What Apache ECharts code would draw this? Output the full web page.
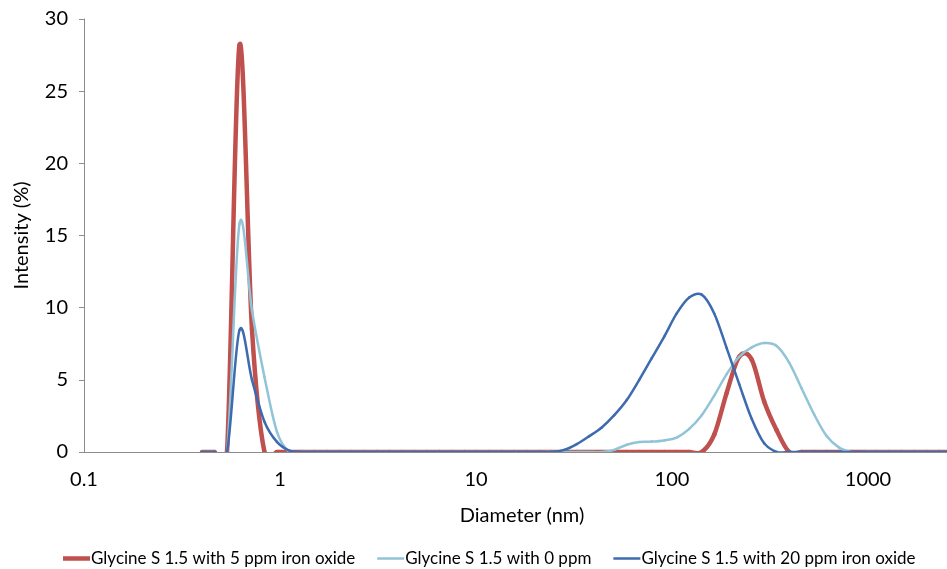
<!DOCTYPE html>
<html>
<head>
<meta charset="utf-8">
<script src="https://cdn.jsdelivr.net/npm/echarts@6/dist/echarts.min.js"></script>
<style>
  html, body { margin: 0; padding: 0; background: #fff; }
  #chart { width: 947px; height: 569px; }
</style>
</head>
<body>
<div id="chart"></div>
<script>
// Size bins of the DLS instrument (nm), log-spaced
const diameters = [0.4, 0.4632, 0.5365, 0.6213, 0.7195, 0.8332, 0.9649, 1.117, 1.294, 1.499,
  1.736, 2.01, 2.328, 2.696, 3.122, 3.615, 4.187, 4.849, 5.615, 6.503,
  7.531, 8.721, 10.1, 11.7, 13.54, 15.69, 18.17, 21.04, 24.36, 28.21,
  32.67, 37.84, 43.82, 50.75, 58.77, 68.06, 78.82, 91.28, 105.7, 122.4,
  141.8, 164.2, 190.1, 220.2, 255, 295.3, 342, 396.1, 458.7, 531.2,
  615.1, 712.4, 825, 955.4, 1106, 1281, 1484, 1718, 1990, 2305,
  2669, 3091, 3580, 4145, 4801, 5560, 6439, 7456, 8635, 10000];

// Intensity (%) per bin
const iron5ppm = [0, 0, 0, 28.2, 8.5, 0, 0, 0, 0, 0,
  0, 0, 0, 0, 0, 0, 0, 0, 0, 0,
  0, 0, 0, 0, 0, 0, 0, 0, 0, 0,
  0, 0, 0, 0, 0, 0, 0, 0, 0, 0,
  0, 1.2, 4.1, 6.6, 6.4, 3.5, 1.5, 0, 0, 0,
  0, 0, 0, 0, 0, 0, 0, 0, 0, 0,
  0, 0, 0, 0, 0, 0, 0, 0, 0, 0];

const iron0ppm = [0, 0, 0, 15.8, 9.8, 5.2, 1.4, 0, 0, 0,
  0, 0, 0, 0, 0, 0, 0, 0, 0, 0,
  0, 0, 0, 0, 0, 0, 0, 0, 0, 0,
  0, 0, 0, 0.15, 0.5, 0.7, 0.72, 0.8, 1.0, 1.6,
  2.55, 3.9, 5.4, 6.6, 7.25, 7.55, 7.35, 6.2, 4.4, 2.6,
  1.1, 0.3, 0, 0, 0, 0, 0, 0, 0, 0,
  0, 0, 0, 0, 0, 0, 0, 0, 0, 0];

const iron20ppm = [0, 0, 0, 8.45, 5.0, 2.1, 0.7, 0.1, 0, 0,
  0, 0, 0, 0, 0, 0, 0, 0, 0, 0,
  0, 0, 0, 0, 0, 0, 0, 0, 0, 0.15,
  0.55, 1.1, 1.7, 2.55, 3.6, 5.0, 6.5, 8.0, 9.6, 10.7,
  10.9, 9.6, 7.2, 4.7, 2.3, 0.6, 0, 0, 0, 0,
  0, 0, 0, 0, 0, 0, 0, 0, 0, 0,
  0, 0, 0, 0, 0, 0, 0, 0, 0, 0];

const seriesNames = [
  'Glycine S 1.5 with 5 ppm iron oxide',
  'Glycine S 1.5 with 0 ppm',
  'Glycine S 1.5 with 20 ppm iron oxide'
];

const pairs = ys => diameters.map((d, i) => [d, ys[i]]);

const FONT = 'Lato';
const chart = echarts.init(document.getElementById('chart'), null, { renderer: 'canvas' });

// Smoothed curve (Catmull-Rom style Bezier) through the data points,
// positioned with the chart's own axes via api.coord; drawn once per series.
function curveSeries(name, ys, color, width) {
  return {
    name, type: 'custom', clip: true, data: pairs(ys),
    encode: { x: 0, y: 1 },
    itemStyle: { color },
    animation: false,
    renderItem(params, api) {
      if (params.dataIndex !== 0) return null;
      const pts = diameters.map((d, i) => api.coord([d, ys[i]]));
      const n = pts.length;
      const children = [];
      for (let i = 0; i < n - 1; i++) {
        const p0 = pts[Math.max(i - 1, 0)];
        const p1 = pts[i];
        const p2 = pts[i + 1];
        const p3 = pts[Math.min(i + 2, n - 1)];
        children.push({
          type: 'bezierCurve',
          shape: {
            x1: p1[0], y1: p1[1], x2: p2[0], y2: p2[1],
            cpx1: p1[0] + (p2[0] - p0[0]) / 6, cpy1: p1[1] + (p2[1] - p0[1]) / 6,
            cpx2: p2[0] - (p3[0] - p1[0]) / 6, cpy2: p2[1] - (p3[1] - p1[1]) / 6
          },
          style: { stroke: color, lineWidth: width, fill: null, lineCap: 'round', lineJoin: 'round' },
          silent: true
        });
      }
      return { type: 'group', children };
    }
  };
}

const legendIcon = h => 'path://M0 0H27V' + h + 'H0Z';

chart.setOption({
  animation: false,
  textStyle: { fontFamily: FONT },
  title: {
    text: 'Diameter (nm)',
    left: 517, top: 501, textAlign: 'center',
    textStyle: { fontFamily: FONT, fontSize: 20, fontWeight: 'normal', color: '#000' }
  },
  // The axis runs on to 10000 nm; the plot area continues past the right edge of the canvas
  grid: { left: 84, top: 19, width: 980, height: 433, containLabel: false, outerBoundsMode: 'none' },
  legend: {
    left: 58, top: 545,
    itemWidth: 27, itemHeight: 10, itemGap: 22,
    textStyle: { fontFamily: FONT, fontSize: 17, color: '#000', padding: [0, 0, 0, -4] },
    data: [
      { name: seriesNames[0], icon: legendIcon(4.5) },
      { name: seriesNames[1], icon: legendIcon(2.5) },
      { name: seriesNames[2], icon: legendIcon(2.5) }
    ]
  },
  xAxis: {
    type: 'log', logBase: 10, min: 0.1, max: 10000,
    axisLine: { lineStyle: { color: '#8c8c8c', width: 1 } },
    axisTick: { show: false },
    splitLine: { show: false },
    axisLabel: {
      margin: 18, fontFamily: FONT, fontSize: 20, color: '#000',
      formatter: v => String(+v.toPrecision(3))
    }
  },
  yAxis: {
    type: 'value', min: 0, max: 30, interval: 5,
    name: 'Intensity (%)', nameLocation: 'middle', nameGap: 52, nameRotate: 90,
    nameTextStyle: { fontFamily: FONT, fontSize: 20, color: '#000' },
    axisLine: { show: true, lineStyle: { color: '#8c8c8c', width: 1 } },
    axisTick: { show: true, inside: false, length: 5, lineStyle: { color: '#8c8c8c' } },
    splitLine: { show: false },
    axisLabel: { margin: 16, fontFamily: FONT, fontSize: 20, color: '#000' }
  },
  series: [
    curveSeries(seriesNames[0], iron5ppm, '#C0504D', 4.5),
    curveSeries(seriesNames[1], iron0ppm, '#92C4D8', 2.5),
    curveSeries(seriesNames[2], iron20ppm, '#3D6BAF', 2.5)
  ]
});
</script>
</body>
</html>
